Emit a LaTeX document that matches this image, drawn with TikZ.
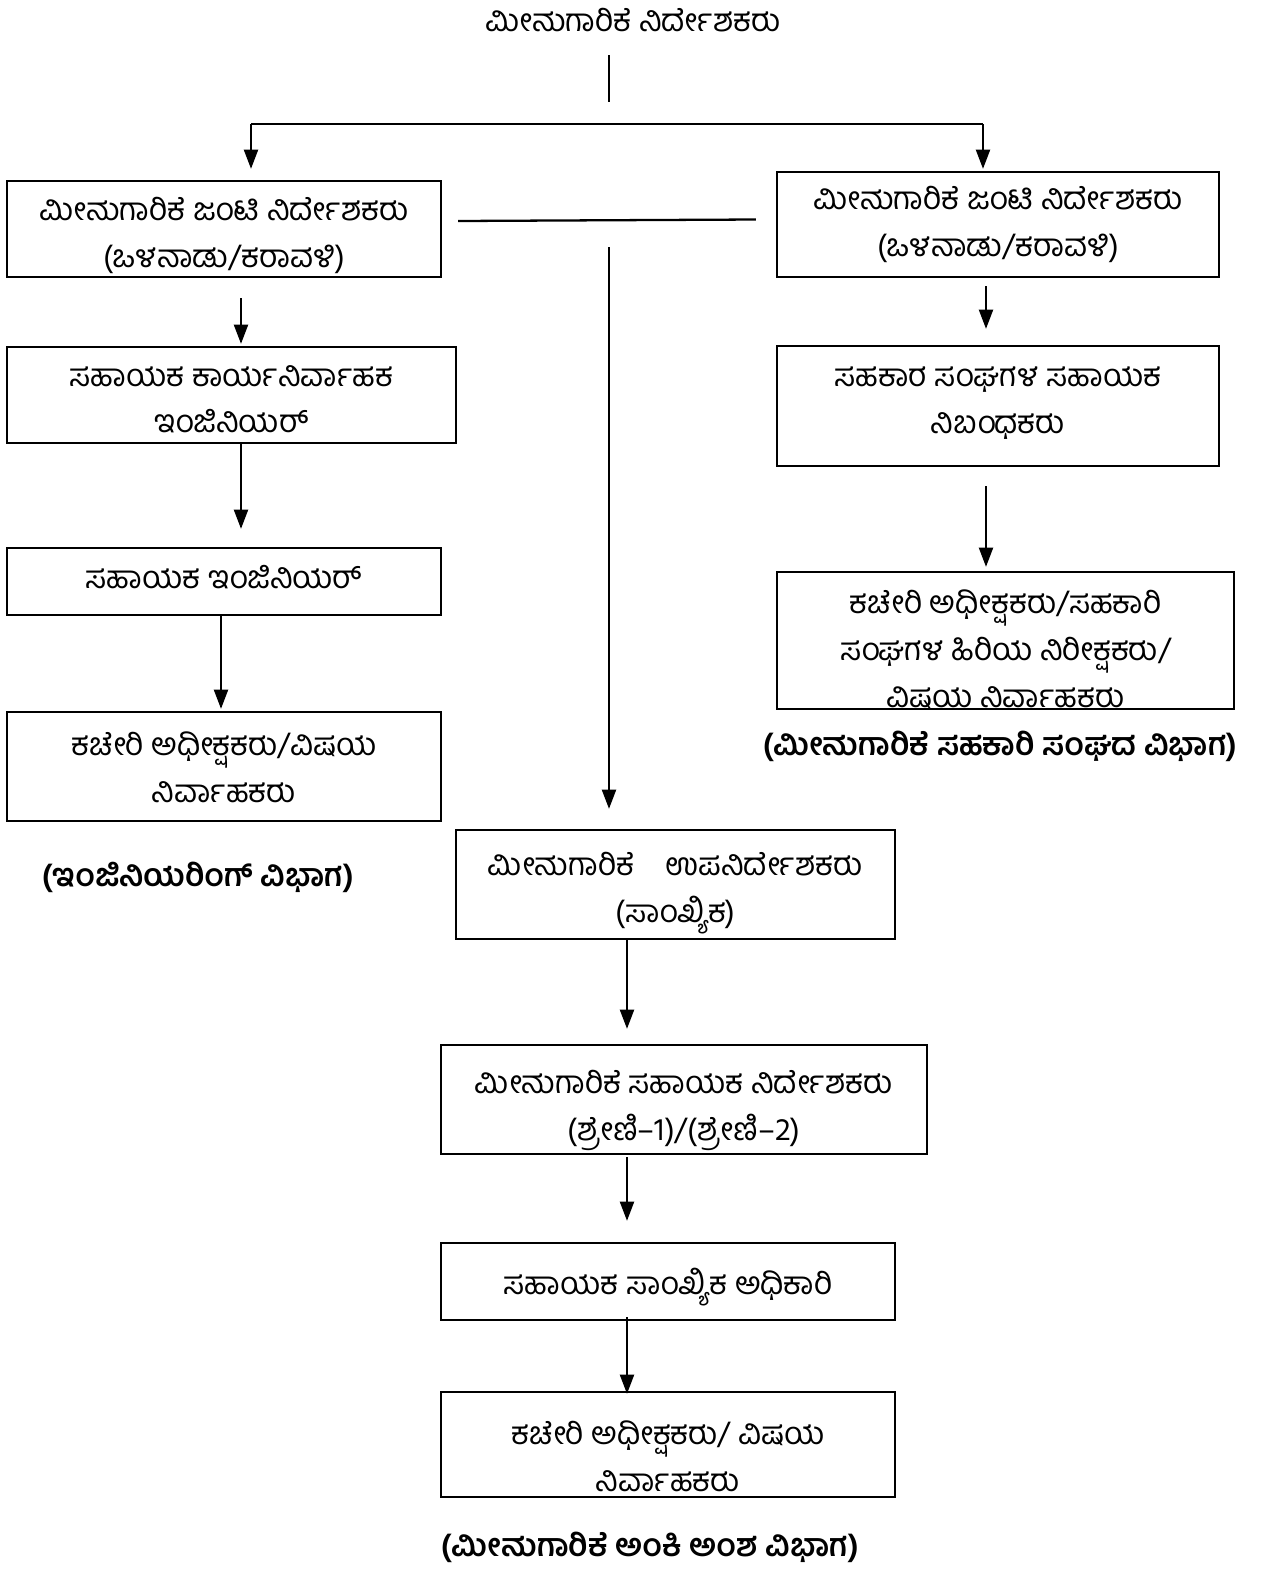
\documentclass[tikz,border=0pt]{standalone}
\usepackage{fontspec}
\setmainfont[Script=Kannada]{Hind Mysuru}
\usetikzlibrary{arrows.meta,positioning,fit}
\def \px {0.02cm}
\newcommand{\kn}{\fontsize{18}{26.6}\selectfont}

\tikzset{
  box/.style={draw,rectangle,line width=1.3pt,inner sep=0pt},
  txt/.style={align=center,inner sep=0pt,anchor=north,font=\kn},
  captxt/.style={inner sep=0pt,font=\kn\bfseries},
  ln/.style={line width=1.3pt},
  arr/.style={line width=1.3pt,-{Triangle[length=11pt,width=8pt]}}
}

\begin{document}
\begin{tikzpicture}[x=\px,y=-\px]
    \useasboundingbox (0,0) rectangle (1269,1586);
    % top
    \node[inner sep=0pt,font=\kn] (dir) at (633,20) {ಮೀನುಗಾರಿಕೆ ನಿರ್ದೇಶಕರು};
    \coordinate (t1) at (609,55);
    \coordinate (t2) at (609,102);
    \coordinate (bl) at (251,124);
    \coordinate (br) at (983,124);
    \coordinate (cv) at (609,247);
    % boxes
    \node[box,fit={(7,181) (441,277)}] (lj) {};
    \node[box,fit={(777,172) (1219,277)}] (rj) {};
    \node[box,fit={(7,347) (456,443)}] (le) {};
    \node[box,fit={(7,548) (441,615)}] (la) {};
    \node[box,fit={(7,712) (441,821)}] (lo) {};
    \node[box,fit={(777,346) (1219,466)}] (rs) {};
    \node[box,fit={(777,572) (1234,709)}] (ro) {};
    \node[box,fit={(456,830) (895,939)}] (c1) {};
    \node[box,fit={(441,1045) (927,1154)}] (c2) {};
    \node[box,fit={(441,1243) (895,1320)}] (c3) {};
    \node[box,fit={(441,1392) (895,1497)}] (c4) {};
    % texts
    \node[txt] at ([yshift=-17*\px]lj.north) {ಮೀನುಗಾರಿಕೆ ಜಂಟಿ ನಿರ್ದೇಶಕರು\\(ಒಳನಾಡು/ಕರಾವಳಿ)};
    \node[txt] at ([yshift=-15*\px]rj.north) {ಮೀನುಗಾರಿಕೆ ಜಂಟಿ ನಿರ್ದೇಶಕರು\\(ಒಳನಾಡು/ಕರಾವಳಿ)};
    \node[txt] at ([yshift=-19*\px]le.north) {ಸಹಾಯಕ ಕಾರ್ಯನಿರ್ವಾಹಕ\\ಇಂಜಿನಿಯರ್};
    \node[txt] at ([yshift=-18*\px]la.north) {ಸಹಾಯಕ ಇಂಜಿನಿಯರ್};
    \node[txt] at ([yshift=-21*\px]lo.north) {ಕಚೇರಿ ಅಧೀಕ್ಷಕರು/ವಿಷಯ\\ನಿರ್ವಾಹಕರು};
    \node[txt] at ([yshift=-22*\px]rs.north) {ಸಹಕಾರ ಸಂಘಗಳ ಸಹಾಯಕ\\ನಿಬಂಧಕರು};
    \begin{scope}
      \clip (ro.north west) rectangle (ro.south east);
      \node[txt] at ([yshift=-19*\px]ro.north) {ಕಚೇರಿ ಅಧೀಕ್ಷಕರು/ಸಹಕಾರಿ\\ಸಂಘಗಳ ಹಿರಿಯ ನಿರೀಕ್ಷಕರು/\\ವಿಷಯ ನಿರ್ವಾಹಕರು};
    \end{scope}
    \node[txt] at ([yshift=-23*\px]c1.north) {ಮೀನುಗಾರಿಕೆ\quad ಉಪನಿರ್ದೇಶಕರು\\(ಸಾಂಖ್ಯಿಕ)};
    \node[txt] at ([yshift=-26*\px]c2.north) {ಮೀನುಗಾರಿಕೆ ಸಹಾಯಕ ನಿರ್ದೇಶಕರು\\(ಶ್ರೇಣಿ–1)/(ಶ್ರೇಣಿ–2)};
    \node[txt] at ([yshift=-26*\px]c3.north) {ಸಹಾಯಕ ಸಾಂಖ್ಯಿಕ ಅಧಿಕಾರಿ};
    \node[txt] at ([yshift=-30*\px]c4.north) {ಕಚೇರಿ ಅಧೀಕ್ಷಕರು/ ವಿಷಯ\\ನಿರ್ವಾಹಕರು};
    % captions
    \node[captxt] (lcap) at (198,877) {(ಇಂಜಿನಿಯರಿಂಗ್ ವಿಭಾಗ)};
    \node[captxt] (rcap) at (1000,746) {(ಮೀನುಗಾರಿಕೆ ಸಹಕಾರಿ ಸಂಘದ ವಿಭಾಗ)};
    \node[captxt] (ccap) at (650,1547) {(ಮೀನುಗಾರಿಕೆ ಅಂಕಿ ಅಂಶ ವಿಭಾಗ)};
    % connectors
    \draw[ln] (t1) -- (t2);
    \draw[ln] (bl) -- (br);
    \draw[arr,shorten >=11*\px] (bl) -- (bl |- lj.north);
    \draw[arr,shorten >=2*\px] (br) -- (br |- rj.north);
    \draw[ln] ([shift={(16*\px,8*\px)}]lj.east) -- ([shift={(-20*\px,5*\px)}]rj.west);
    \draw[arr,shorten >=20*\px] (cv) -- (cv |- c1.north);
    \draw[arr,shorten <=20*\px,shorten >=2*\px] ([xshift=17*\px]lj.south) -- ([xshift=17*\px]lj.south |- le.north);
    \draw[arr,shorten >=18*\px] ([xshift=9.5*\px]le.south) -- ([xshift=9.5*\px]le.south |- la.north);
    \draw[arr,shorten >=2*\px] ([xshift=-3*\px]la.south) -- ([xshift=-3*\px]la.south |- lo.north);
    \draw[arr,shorten <=8*\px,shorten >=16*\px] ([xshift=-12*\px]rj.south) -- ([xshift=-12*\px]rj.south |- rs.north);
    \draw[arr,shorten <=19*\px,shorten >=4*\px] ([xshift=-12*\px]rs.south) -- ([xshift=-12*\px]rs.south |- ro.north);
    \draw[arr,shorten >=15*\px] ([xshift=-48.5*\px]c1.south) -- ([xshift=-48.5*\px]c1.south |- c2.north);
    \draw[arr,shorten <=2*\px,shorten >=21*\px] ([xshift=-57*\px]c2.south) -- ([xshift=-57*\px]c2.south |- c3.north);
    \draw[arr,shorten <=-4*\px,shorten >=-3*\px] ([xshift=-41*\px]c3.south) -- ([xshift=-41*\px]c3.south |- c4.north);
\end{tikzpicture}
\end{document}
